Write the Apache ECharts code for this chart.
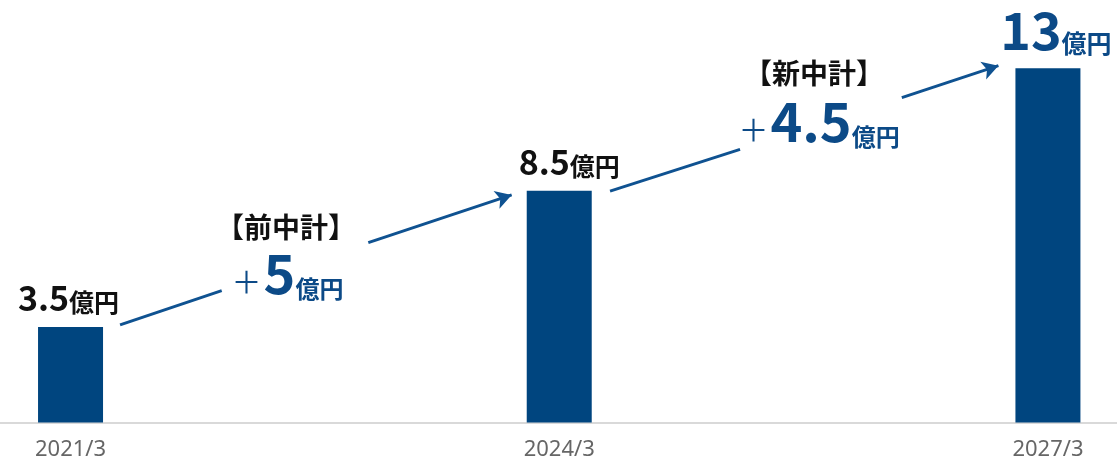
<!DOCTYPE html>
<html>
<head>
<meta charset="utf-8">
<script src="https://cdn.jsdelivr.net/npm/echarts@6/dist/echarts.min.js"></script>
<style>
html,body{margin:0;padding:0;background:#fff;}
#c{width:1117px;height:461px;}
</style>
</head>
<body>
<div id="c"></div>
<script>
// ---- data ----
const categories = ['2021/3', '2024/3', '2027/3'];
const categoryYears = [0, 3, 6];           // years after 2021/3
const values = [3.5, 8.5, 13];
const valueNumbers = ['3.5', '8.5', '13'];
const unitText = '億円';
const planTitles = ['【前中計】', '【新中計】'];
const planIncrements = ['5', '4.5'];
// arrow segments in data units [x (years), y (億円)]
const arrowSegA = [[[0.304, 3.58], [0.928, 4.84]], [[3.312, 8.49], [4.110, 10.02]]];
const arrowSegB = [[[1.828, 6.60], [2.708, 8.35]], [[5.103, 11.92], [5.696, 13.09]]];
// annotation anchors in data units
const titleAnchors = [[1.323, 7.15], [4.564, 12.82]];
const incrementAnchors = [[1.332, 5.45], [4.595, 11.03]];

// ---- styles ----
const BAR = '#00457f';
const BLUE = '#0c4a87';
const ARROW = '#0f5291';
const FONT = '"Noto Sans CJK JP", "Noto Sans", sans-serif';

const chart = echarts.init(document.getElementById('c'), null, {renderer: 'canvas'});

const barData = values.map((v, i) => {
  const last = i === values.length - 1;
  return {
    value: [categoryYears[i], v],
    label: last ? {
      formatter: '{bn|' + valueNumbers[i] + '}{bu|' + unitText + '}',
      offset: [8, -2],
      distance: 10
    } : {
      formatter: '{n|' + valueNumbers[i] + '}{u|' + unitText + '}',
      offset: [i === 1 ? 10 : -2, 0]
    }
  };
});

const markLineData = [];
arrowSegA.forEach(s => markLineData.push([{coord: s[0], symbol: 'none'}, {coord: s[1], symbol: 'none'}]));
arrowSegB.forEach(s => markLineData.push([{coord: s[0], symbol: 'none'}, {coord: s[1], symbol: 'arrow', symbolSize: [14, 16]}]));

const markPointData = [];
titleAnchors.forEach((a, i) => markPointData.push({
  coord: a,
  label: {formatter: '{t|' + planTitles[i] + '}'}
}));
incrementAnchors.forEach((a, i) => markPointData.push({
  coord: a,
  label: {formatter: '{p|＋}{n|' + planIncrements[i] + '}{u|' + unitText + '}'}
}));

const option = {
  animation: false,
  grid: {left: 0, right: 0, top: 0, bottom: 38.5},
  xAxis: {
    type: 'value',
    min: -0.433,
    max: 6.424,
    axisLine: {show: true, lineStyle: {color: '#d9d9d9', width: 2}},
    axisTick: {show: false},
    splitLine: {show: false},
    axisLabel: {
      customValues: categoryYears,
      formatter: v => categories[categoryYears.indexOf(v)] || '',
      color: '#666',
      fontFamily: '"Liberation Sans Narrow", "Noto Sans", sans-serif',
      fontSize: 22,
      margin: 16
    }
  },
  yAxis: {
    type: 'value', min: 0, max: 15.5, show: false, splitLine: {show: false}
  },
  series: [{
    type: 'bar',
    data: barData,
    barWidth: 65,
    itemStyle: {color: BAR},
    silent: true,
    label: {
      show: true,
      position: 'top',
      distance: 12,
      fontFamily: FONT,
      rich: {
        n: {fontFamily: FONT, fontWeight: 'bold', fontSize: 34, color: '#111', verticalAlign: 'bottom'},
        u: {fontFamily: FONT, fontWeight: 'bold', fontSize: 25, color: '#111', verticalAlign: 'bottom'},
        bn: {fontFamily: FONT, fontWeight: 'bold', fontSize: 52, color: BLUE, verticalAlign: 'bottom'},
        bu: {fontFamily: FONT, fontWeight: 'bold', fontSize: 25, color: BLUE, verticalAlign: 'bottom'}
      }
    },
    markLine: {
      silent: true,
      animation: false,
      symbol: ['none', 'none'],
      lineStyle: {color: ARROW, width: 3, type: 'solid'},
      label: {show: false},
      emphasis: {disabled: true},
      data: markLineData
    },
    markPoint: {
      silent: true,
      animation: false,
      symbol: 'circle',
      symbolSize: 1,
      itemStyle: {color: 'rgba(0,0,0,0)'},
      label: {
        show: true,
        position: 'inside',
        fontFamily: FONT,
        rich: {
          t: {fontFamily: FONT, fontWeight: 'bold', fontSize: 28, color: '#111'},
          p: {fontFamily: FONT, fontWeight: 'normal', fontSize: 30, color: BLUE, verticalAlign: 'bottom', padding: [0, 2, 4, 0]},
          n: {fontFamily: FONT, fontWeight: 'bold', fontSize: 54, color: BLUE, verticalAlign: 'bottom'},
          u: {fontFamily: FONT, fontWeight: 'bold', fontSize: 24, color: BLUE, verticalAlign: 'bottom'}
        }
      },
      data: markPointData
    }
  }]
};
chart.setOption(option);
</script>
</body>
</html>
